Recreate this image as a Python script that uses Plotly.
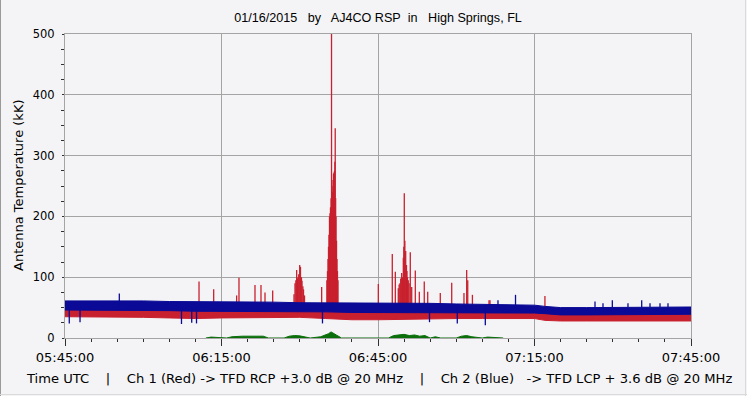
import plotly.graph_objects as go

# ---------------- data (minutes after 05:45:00 UTC, values in kK) ----------------
tick_minutes = [0, 30, 60, 90, 120]
tick_labels = ["05:45:00", "06:15:00", "06:45:00", "07:15:00", "07:45:00"]

band_t = [0, 5, 10, 15, 20, 25, 30, 35, 40, 45, 50, 55, 60, 65, 70, 75, 80, 85, 90, 92, 95, 100, 105, 110, 115, 120]
blue_hi = [61, 61, 62, 61, 60, 60, 59, 59, 59, 58, 58, 57, 57, 57, 57, 56, 55, 54, 54, 52, 50, 50, 50, 50, 50, 51]
blue_lo = [46, 46, 46, 45, 45, 44, 44, 44, 44, 44, 43, 42, 42, 42, 42, 42, 41, 41, 41, 40, 38, 38, 38, 38, 38, 39]
red_hi = [48, 48, 49, 48, 47, 47, 46, 46, 46, 46, 45, 44, 44, 44, 44, 44, 43, 43, 43, 41, 39, 39, 39, 39, 39, 39]
red_lo = [35, 35, 34, 34, 33, 32, 33, 33, 34, 34, 32, 30, 30, 31, 32, 32, 32, 32, 32, 29, 28, 28, 28, 28, 28, 28]

red_spike_t = [25.69, 28.5, 32.9, 33.35, 36.42, 37.57, 38.34, 39.81,
               43.9, 44.09, 44.25, 44.41, 44.55, 44.66, 44.8, 44.99, 45.14, 45.33, 45.43, 45.6, 45.72, 45.91, 49.2,
               50.2, 50.32, 50.42, 50.51, 50.6, 50.70, 50.8, 50.89, 51.0, 51.09, 51.18, 51.28, 51.38, 51.47,
               51.56, 51.66, 51.73, 51.80, 51.88, 51.95, 52.05, 52.14, 52.23, 52.33,
               60.06, 62.74, 63.32, 63.89, 64.05, 64.2, 64.35, 64.54, 64.7, 64.85, 64.95, 65.04, 65.15,
               65.31, 65.46, 65.55, 65.65, 65.8, 65.96, 66.19, 66.46, 67.15, 67.92, 68.87, 69.53,
               71.94, 74.13, 76.48, 77.0, 77.2, 78.1, 81.28, 81.47, 92.0]
red_spike_v = [93, 80, 70, 99, 87, 87, 75, 78,
               72, 90, 95, 112, 98, 100, 105, 120, 117, 100, 94, 85, 80, 70, 84,
               95, 110, 130, 150, 170, 200, 205, 215, 230, 500, 250, 240, 260, 270,
               272, 275, 290, 345, 230, 200, 160, 130, 110, 95,
               89, 138, 109, 82, 88, 90, 98, 107, 100, 132, 150, 238, 160,
               143, 120, 110, 100, 95, 90, 141, 84, 111, 76, 93, 76,
               74, 91, 74, 112, 95, 71, 62, 62, 69]

blue_up_t = [10.41, 83.0, 86.36, 101.6, 103.13, 104.92, 107.92, 110.55, 112.14, 114.06, 115.59]
blue_up_v = [73, 62, 71, 60, 57, 62, 57, 62, 57, 57, 57]
blue_dn_t = [0.82, 2.88, 22.33, 24.29, 25.21, 49.36, 69.87, 75.2, 80.57]
blue_dn_v = [24, 26, 23, 25, 24, 24, 26, 24, 21]

green_t = [27, 28, 31, 32, 34, 36, 38, 39, 42, 43, 44, 45, 46, 47, 49, 50, 50.5, 51, 51.5, 52, 53,
           62, 63, 64, 65, 66, 67, 68, 69, 70, 71, 72, 75, 76, 77, 78, 80, 81, 83, 84]
green_v = [0, 1.5, 0, 2, 3, 2.5, 3, 0, 0, 3, 4, 3.5, 2, 0, 2, 5, 7, 10, 8, 5, 0,
           0, 4, 5, 6, 4, 5, 3, 4, 0, 2, 0, 0, 3, 4, 2, 0, 1.5, 1, 0]

title_text = "01/16/2015\u00a0\u00a0 by\u00a0\u00a0 AJ4CO RSP\u00a0 in\u00a0\u00a0 High Springs, FL"
bottom_text = ("Time UTC\u00a0\u00a0\u00a0 |\u00a0\u00a0\u00a0 Ch 1 (Red) -> TFD RCP +3.0 dB @ 20 MHz"
               "\u00a0\u00a0\u00a0 |\u00a0\u00a0\u00a0 Ch 2 (Blue)\u00a0\u00a0 -> TFD LCP + 3.6 dB @ 20 MHz")
y_title = "Antenna Temperature (kK)"

RED = "#C8202E"
BLUE = "#0A0A96"
GREEN = "#0A6E0A"
BG = "#F4F4F6"
GRID = "#A4A4A4"


def segments(ts, vs, base):
    xs, ys = [], []
    for t, v in zip(ts, vs):
        xs += [t, t, None]
        ys += [base, v, None]
    return xs, ys


fig = go.Figure()

# red band
fig.add_trace(go.Scatter(x=band_t, y=red_lo, mode="lines", line=dict(color=RED, width=1),
                         hoverinfo="skip", showlegend=False))
fig.add_trace(go.Scatter(x=band_t, y=red_hi, mode="lines", line=dict(color=RED, width=1),
                         fill="tonexty", fillcolor=RED, hoverinfo="skip", showlegend=False))
sx, sy = segments(red_spike_t, red_spike_v, 40)
fig.add_trace(go.Scatter(x=sx, y=sy, mode="lines", line=dict(color=RED, width=1.3),
                         hoverinfo="skip", showlegend=False))

# blue band
fig.add_trace(go.Scatter(x=band_t, y=blue_lo, mode="lines", line=dict(color=BLUE, width=1),
                         hoverinfo="skip", showlegend=False))
fig.add_trace(go.Scatter(x=band_t, y=blue_hi, mode="lines", line=dict(color=BLUE, width=1),
                         fill="tonexty", fillcolor=BLUE, hoverinfo="skip", showlegend=False))
bx, by = segments(blue_up_t + blue_dn_t, blue_up_v + blue_dn_v, 50)
fig.add_trace(go.Scatter(x=bx, y=by, mode="lines", line=dict(color=BLUE, width=1.3),
                         hoverinfo="skip", showlegend=False))

# green
fig.add_trace(go.Scatter(x=green_t, y=green_v, mode="lines", line=dict(color=GREEN, width=1),
                         fill="tozeroy", fillcolor=GREEN, hoverinfo="skip", showlegend=False))

L, R, T, B = 65, 56, 34, 58
W, H = 747, 396
pw, ph = W - L - R, H - T - B

fig.update_layout(
    width=W, height=H,
    margin=dict(l=L, r=R, t=T, b=B, pad=0, autoexpand=False),
    paper_bgcolor=BG, plot_bgcolor=BG,
    font=dict(family="DejaVu Sans", size=12, color="#000000"),
    title=dict(text=title_text,
               x=0.5, xref="paper", y=1 - 18 / H, yref="container", yanchor="middle",
               font=dict(family="Liberation Sans", size=12.6, color="#000000")),
    xaxis=dict(range=[0, 120], tickvals=tick_minutes, ticktext=tick_labels,
               showgrid=True, gridcolor=GRID, gridwidth=1,
               showline=True, linecolor=GRID, mirror=True, zeroline=False,
               ticks="outside", ticklen=7, tickcolor="#303030",
               tickfont=dict(family="DejaVu Sans", size=13),
               minor=dict(dtick=5, tick0=0, ticks="outside", ticklen=3, tickcolor="#303030", showgrid=False)),
    yaxis=dict(range=[0, 500], dtick=100, tick0=0,
               showgrid=True, gridcolor=GRID, gridwidth=1,
               showline=True, linecolor=GRID, mirror=True, zeroline=False,
               ticks="outside", ticklen=2, tickcolor="#303030",
               ticklabelstandoff=5,
               tickfont=dict(family="DejaVu Sans", size=11.5),
               minor=dict(dtick=25, tick0=0, ticks="outside", ticklen=3, tickcolor="#303030", showgrid=False)),
    annotations=[
        dict(text=y_title, textangle=-90, x=(18 - L) / pw, y=0.5,
             xref="paper", yref="paper", xanchor="center", yanchor="middle", showarrow=False,
             font=dict(family="DejaVu Sans", size=13)),
        dict(text=bottom_text,
             x=(379 - L) / pw, y=-(378 - (T + ph)) / ph, xref="paper", yref="paper",
             xanchor="center", yanchor="middle", showarrow=False,
             font=dict(family="DejaVu Sans", size=13.1)),
    ],
    shapes=[
        dict(type="line", xref="paper", yref="paper", x0=-L / pw, x1=(W - L) / pw,
             y0=(H - T - 1) / ph, y1=(H - T - 1) / ph, line=dict(color="#8A8A8A", width=2), layer="above"),
        dict(type="line", xref="paper", yref="paper", x0=-(L - 0.5) / pw, x1=-(L - 0.5) / pw,
             y0=-B / ph, y1=(H - T) / ph, line=dict(color="#9A9A9A", width=1), layer="above"),
        dict(type="line", xref="paper", yref="paper", x0=-L / pw, x1=(W - L) / pw,
             y0=-(B - 1.5) / ph, y1=-(B - 1.5) / ph, line=dict(color="#DADADA", width=1), layer="above"),
        dict(type="line", xref="paper", yref="paper", x0=(W - L - 1.5) / pw, x1=(W - L - 1.5) / pw,
             y0=-B / ph, y1=(H - T) / ph, line=dict(color="#DADADA", width=1), layer="above"),
    ],
)

fig.write_html("out.html", config={"displayModeBar": False},
               post_script="document.body.style.margin='0px';document.body.style.overflow='hidden';")
